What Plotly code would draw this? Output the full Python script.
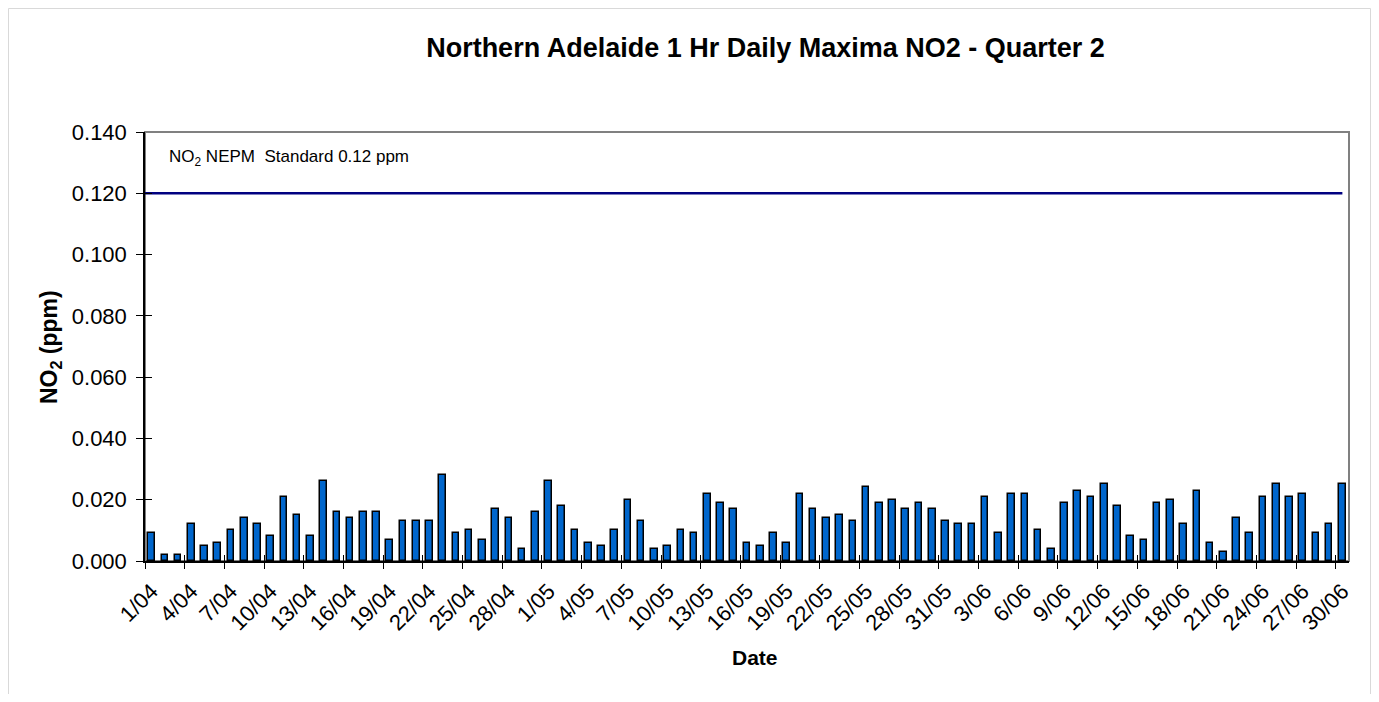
import plotly.graph_objects as go

# ---- data ----
months = [("04", 30), ("05", 31), ("06", 30)]
dates = [f"{d}/{m}" for m, n in months for d in range(1, n + 1)]

no2_ppm = [
    0.009, 0.002, 0.002, 0.012, 0.005, 0.006, 0.010, 0.014, 0.012, 0.008,
    0.021, 0.015, 0.008, 0.026, 0.016, 0.014, 0.016, 0.016, 0.007, 0.013,
    0.013, 0.013, 0.028, 0.009, 0.010, 0.007, 0.017, 0.014, 0.004, 0.016,
    0.026, 0.018, 0.010, 0.006, 0.005, 0.010, 0.020, 0.013, 0.004, 0.005,
    0.010, 0.009, 0.022, 0.019, 0.017, 0.006, 0.005, 0.009, 0.006, 0.022,
    0.017, 0.014, 0.015, 0.013, 0.024, 0.019, 0.020, 0.017, 0.019, 0.017,
    0.013, 0.012, 0.012, 0.021, 0.009, 0.022, 0.022, 0.010, 0.004, 0.019,
    0.023, 0.021, 0.025, 0.018, 0.008, 0.007, 0.019, 0.020, 0.012, 0.023,
    0.006, 0.003, 0.014, 0.009, 0.021, 0.025, 0.021, 0.022, 0.009, 0.012,
    0.025,
]
nepm_standard = 0.12
y_ticks = [0.0, 0.02, 0.04, 0.06, 0.08, 0.10, 0.12, 0.14]
label_step = 3

# ---- derived positions ----
day_idx = list(range(1, len(dates) + 1))
tick_pos = day_idx[::label_step]
tick_txt = dates[::label_step]
boundary_ticks = [p - 0.5 for p in tick_pos]
x_range = [0.5, len(dates) + 0.5]
y_range = [y_ticks[0], y_ticks[-1]]

FONT = "Liberation Sans, Arial, sans-serif"

# page geometry (body margin 8px)
W, H, OFF = 1363, 686, 8
PL, PR, PT, PB = 145, 1349, 132, 561  # plot area in page pixels
pw, ph = PR - PL, PB - PT


def px(xp):
    return (xp - PL) / pw


def py(yp):
    return (PB - yp) / ph


fig = go.Figure()
fig.add_trace(go.Bar(
    x=day_idx, y=no2_ppm, width=0.5,
    marker=dict(color="#0066CC", line=dict(color="black", width=1.5)),
    hovertemplate="%{customdata}: %{y:.3f} ppm<extra></extra>",
    customdata=dates, showlegend=False,
))
fig.add_trace(go.Scatter(
    x=[x_range[0], day_idx[-1]], y=[nepm_standard, nepm_standard],
    mode="lines", line=dict(color="#000080", width=2.5),
    xaxis="x2", yaxis="y2", showlegend=False, hoverinfo="skip",
))

fig.update_layout(
    width=W, height=H,
    margin=dict(l=PL - OFF, r=OFF + W - PR, t=PT - OFF, b=OFF + H - PB),
    paper_bgcolor="white", plot_bgcolor="white",
    font=dict(family=FONT, size=22, color="black"),
    bargap=0,
    title=dict(
        text="<b>Northern Adelaide 1 Hr Daily Maxima NO2 - Quarter 2</b>",
        x=(765.5 - OFF) / W, xref="container", xanchor="center",
        y=1 - (48 - OFF) / H, yref="container", yanchor="middle",
        font=dict(family=FONT, size=27, color="black"),
    ),
    xaxis=dict(
        range=x_range, tickmode="array", tickvals=tick_pos, ticktext=tick_txt,
        tickangle=-45, ticks="outside", ticklen=7, tickcolor="rgba(0,0,0,0)",
        showgrid=False, zeroline=False,
        showline=True, linecolor="black", linewidth=1.5,
        tickfont=dict(family=FONT, size=22, color="black"),
        minor=dict(tickmode="array", tickvals=boundary_ticks, ticks="outside",
                   ticklen=6, tickwidth=1, tickcolor="black", showgrid=False),
    ),
    xaxis2=dict(
        range=x_range, overlaying="x", anchor="y", side="bottom",
        tickmode="array", tickvals=boundary_ticks, ticks="inside",
        ticklen=6, tickwidth=1, tickcolor="black",
        showticklabels=False, showgrid=False, zeroline=False, showline=False,
    ),
    yaxis=dict(
        range=y_range, tickmode="array", tickvals=y_ticks, tickformat=".3f",
        ticks="outside", ticklen=7, tickwidth=1, tickcolor="black",
        ticklabelstandoff=5,
        showgrid=False, zeroline=False,
        showline=True, linecolor="black", linewidth=1.5,
        tickfont=dict(family=FONT, size=22, color="black"),
    ),
    yaxis2=dict(
        range=y_range, overlaying="y", anchor="x", side="left",
        tickmode="array", tickvals=y_ticks, ticks="inside",
        ticklen=7, tickwidth=1, tickcolor="black",
        showticklabels=False, showgrid=False, zeroline=False, showline=False,
    ),
    shapes=[
        dict(type="rect", xref="paper", yref="paper", x0=0, x1=1, y0=0, y1=1,
             line=dict(color="#808080", width=2), layer="below"),
        dict(type="rect", xref="paper", yref="paper",
             x0=px(OFF + 0.5), x1=px(OFF + W - 0.5),
             y0=py(OFF + H + 5), y1=py(OFF + 0.5),
             line=dict(color="#D9D9D9", width=1), layer="below"),
    ],
    annotations=[
        dict(text="NO<sub>2</sub> NEPM  Standard 0.12 ppm",
             xref="paper", yref="paper", x=px(167), y=py(158),
             xanchor="left", yanchor="middle", showarrow=False,
             font=dict(family=FONT, size=17, color="black")),
        dict(text="<b>NO<sub>2</sub> (ppm)</b>", textangle=-90,
             xref="paper", yref="paper", x=px(50), y=py(347),
             xanchor="center", yanchor="middle", showarrow=False,
             font=dict(family=FONT, size=23, color="black")),
        dict(text="<b>Date</b>",
             xref="paper", yref="paper", x=px(755), y=py(657),
             xanchor="center", yanchor="middle", showarrow=False,
             font=dict(family=FONT, size=21, color="black")),
    ],
)

fig.write_html("out.html")
